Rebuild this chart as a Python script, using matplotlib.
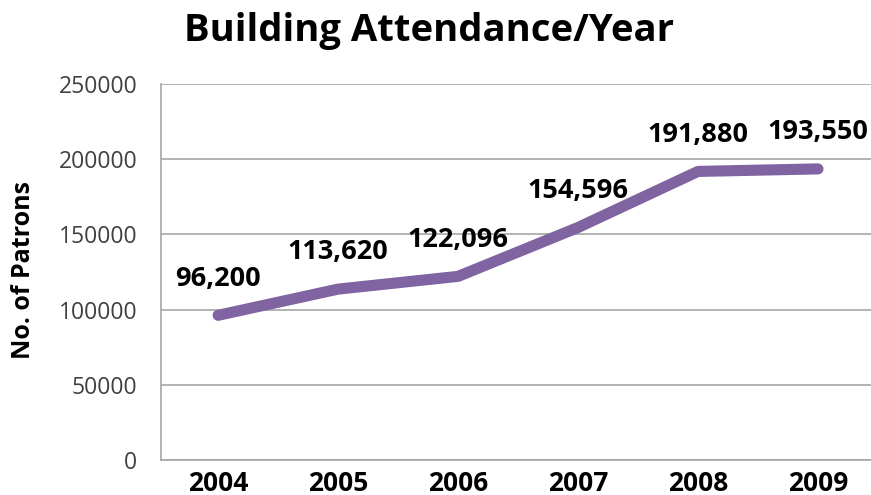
import matplotlib
matplotlib.use("Agg")
import matplotlib.pyplot as plt

years = ["2004", "2005", "2006", "2007", "2008", "2009"]
patrons = [96200, 113620, 122096, 154596, 191880, 193550]
labels = ["96,200", "113,620", "122,096", "154,596", "191,880", "193,550"]
yticks = [0, 50000, 100000, 150000, 200000, 250000]

plt.rcParams['font.family'] = ['Open Sans', 'DejaVu Sans']

W, H = 871, 495
fig = plt.figure(figsize=(W / 100, H / 100), dpi=100)
left, right, top, bottom = 161, 878, 84, 460
ax = fig.add_axes([left / W, 1 - bottom / H, (right - left) / W, (bottom - top) / H])

x = list(range(len(years)))
ax.plot(x, patrons, color="#8064A2", linewidth=8, solid_capstyle="round", solid_joinstyle="round", zorder=3)
for xi, v, lab in zip(x, patrons, labels):
    ax.annotate(lab, (xi, v), xytext=(0, 26.5), textcoords="offset points",
                ha="center", va="center", fontsize=19.5, fontweight="bold", color="black", zorder=4)

ax.set_xlim(-0.476, 5.5)
ax.set_ylim(0, 250000)
ax.set_yticks(yticks)
ax.set_yticklabels([str(t) for t in yticks], fontsize=16.5, color="#404040")
ax.set_xticks(x)
ax.set_xticklabels(years, fontsize=19, fontweight="bold")
ax.tick_params(axis="both", length=0)
ax.tick_params(axis="y", pad=17)
ax.tick_params(axis="x", pad=7)
ax.yaxis.grid(True, color="#A6A6A6", linewidth=1.2)
ax.set_axisbelow(True)
for s in ["top", "right"]:
    ax.spines[s].set_visible(False)
for s in ["left", "bottom"]:
    ax.spines[s].set_color("#A6A6A6")
    ax.spines[s].set_linewidth(1.2)

fig.text(24 / W, 1 - 270 / H, "No. of Patrons", ha="center", va="center", rotation=90,
         fontsize=18, fontweight="bold")
fig.text(429 / W, 1 - 31 / H, "Building Attendance/Year", ha="center", va="center",
         fontsize=27.5, fontweight="bold")

fig.savefig("out.png", dpi=100)
